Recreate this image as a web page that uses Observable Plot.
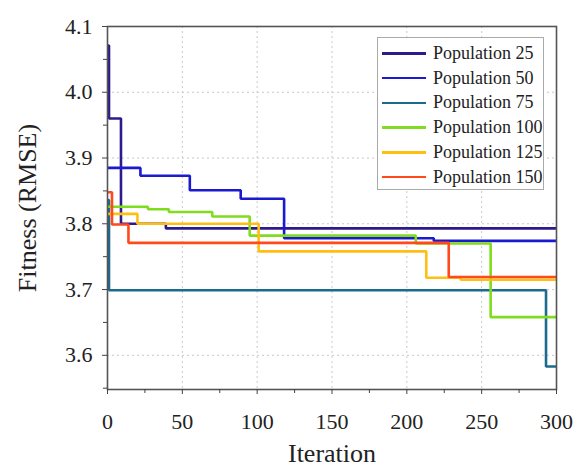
<!DOCTYPE html>
<html>
<head>
<meta charset="utf-8">
<script src="https://cdn.jsdelivr.net/npm/d3@7"></script>
<script src="https://cdn.jsdelivr.net/npm/@observablehq/plot@0.6"></script>
<style>
  html, body { margin: 0; padding: 0; background: #fff; }
  #wrap { position: relative; width: 576px; height: 466px; overflow: hidden; }
  #legend { position: absolute; left: 377px; top: 37px; width: 167px; height: 153px;
    border: 1.5px solid #aaa; background: #fff; box-sizing: border-box;
    font-family: "Liberation Serif", serif; font-size: 18px; color: #222; }
  .row { position: absolute; left: 4px; height: 20px; display: flex; align-items: center; }
  .sw { width: 44px; height: 2.6px; margin-right: 7px; }
</style>
</head>
<body>
<div id="wrap"><div id="legend"></div></div>
<script>
const seriesNames = ["Population 25", "Population 50", "Population 75", "Population 100", "Population 125", "Population 150"];
const seriesColors = ["#2d1b8c", "#1a1ad0", "#1c6a8e", "#7fdc1e", "#ffbf12", "#ff4a1c"];

// change points: iteration where a new best fitness starts, and that value
const iter25 = [0, 1, 9, 39, 300];
const fit25 = [4.071, 3.960, 3.800, 3.793, 3.793];
const iter50 = [0, 22, 55, 89, 118, 218, 300];
const fit50 = [3.885, 3.873, 3.851, 3.838, 3.778, 3.774, 3.774];
const iter75 = [0, 1, 293, 300];
const fit75 = [3.836, 3.699, 3.583, 3.583];
const iter100 = [0, 27, 41, 70, 95, 206, 256, 300];
const fit100 = [3.826, 3.822, 3.818, 3.811, 3.782, 3.770, 3.658, 3.658];
const iter125 = [0, 20, 101, 213, 236, 300];
const fit125 = [3.815, 3.800, 3.758, 3.718, 3.715, 3.715];
const iter150 = [0, 3, 14, 228, 300];
const fit150 = [3.848, 3.799, 3.771, 3.719, 3.719];

const xTicks = [0, 50, 100, 150, 200, 250, 300];
const xMinor = [25, 75, 125, 175, 225, 275];
const yTicks = [3.6, 3.7, 3.8, 3.9, 4.0, 4.1];
const yMinor = [3.55, 3.65, 3.75, 3.85, 3.95, 4.05];

const iters = [iter25, iter50, iter75, iter100, iter125, iter150];
const fits = [fit25, fit50, fit75, fit100, fit125, fit150];
const rows = [];
seriesNames.forEach((name, s) => {
  iters[s].forEach((it, i) => rows.push({series: name, iteration: it, fitness: fits[s][i]}));
});

const font = "Liberation Serif";
const plot = Plot.plot({
  width: 576,
  height: 466,
  marginLeft: 107,
  marginRight: 20,
  marginTop: 26,
  marginBottom: 77,
  style: {fontFamily: font, fontSize: "22px", color: "#222", background: "#fff"},
  x: {domain: [0, 300]},
  y: {domain: [3.548, 4.1]},
  color: {domain: seriesNames, range: seriesColors},
  marks: [
    Plot.gridX(xTicks.slice(1, -1), {stroke: "#c8c8c8", strokeOpacity: 1, strokeDasharray: "2,3"}),
    Plot.gridY(yTicks.slice(0, -1), {stroke: "#c8c8c8", strokeOpacity: 1, strokeDasharray: "2,3"}),
    Plot.line(rows, {x: "iteration", y: "fitness", z: "series", stroke: "series",
      curve: "step-after", strokeWidth: 2.6, strokeLinejoin: "miter", strokeLinecap: "butt"}),
    Plot.frame({stroke: "#555", strokeWidth: 1.6}),
    Plot.axisX(xTicks, {tickSize: 5, tickPadding: 19, label: null, stroke: "#444", fill: "#222"}),
    Plot.axisX(xMinor, {tickSize: 4, text: null, label: null, stroke: "#444"}),
    Plot.axisY(yTicks, {tickSize: 5, tickPadding: 10, tickFormat: d3.format(".1f"), label: null, stroke: "#444", fill: "#222"}),
    Plot.axisY(yMinor, {tickSize: 4, text: null, label: null, stroke: "#444"}),
    Plot.text(["Iteration"], {frameAnchor: "bottom", dy: 72, fontSize: 26, fill: "#222"}),
    Plot.text(["Fitness (RMSE)"], {frameAnchor: "left", textAnchor: "middle", rotate: -90, dx: -80, fontSize: 26, fill: "#222"})
  ]
});
document.getElementById("wrap").prepend(plot);

const legend = d3.select("#legend");
seriesNames.forEach((name, i) => {
  const r = legend.append("div").attr("class", "row").style("top", (5.5 + i * 24.7) + "px");
  r.append("div").attr("class", "sw").style("background", seriesColors[i]);
  r.append("span").text(name);
});
</script>
</body>
</html>
